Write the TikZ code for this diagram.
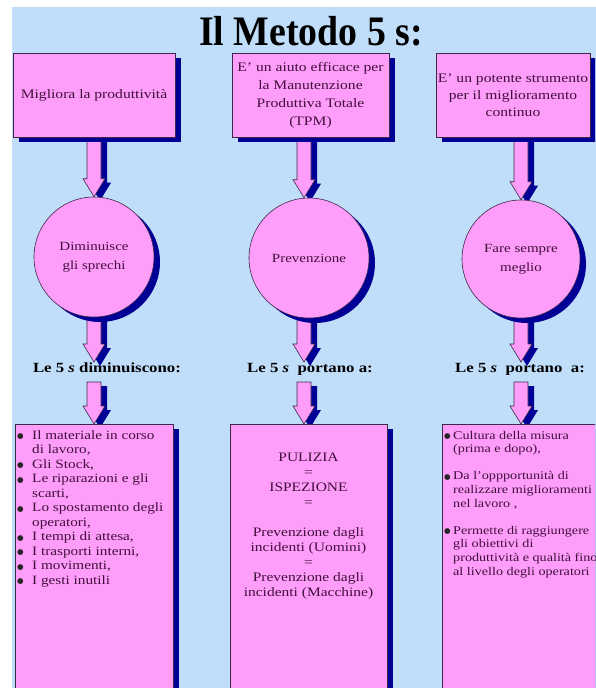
\documentclass[tikz,border=0pt]{standalone}
\usepackage{fontspec}
\setmainfont{Liberation Serif}[FakeStretch=1.2]
\newfontfamily\titlefont{Liberation Serif}[FakeStretch=0.9]
\newfontfamily\symfont{DejaVu Sans}
\usetikzlibrary{shadows,calc}
\definecolor{bgblue}{RGB}{192,222,250}
\definecolor{boxpink}{RGB}{255,158,250}
\definecolor{shblue}{RGB}{0,0,150}
\definecolor{edgecol}{RGB}{60,40,70}
\definecolor{txtcol}{RGB}{65,15,60}
\pgfdeclarelayer{backlayer}
\pgfdeclarelayer{arrowlayer}
\pgfsetlayers{backlayer,arrowlayer,main}
\newcommand\dotb{{\color{black!85}\symfont\fontsize{7.5}{7.5}\selectfont ●}}
\newcommand\bi{\makebox[15pt][l]{\raisebox{0.3pt}{\dotb}}}
\newcommand\ci{\hspace*{15pt}}
\newcommand\bj{\makebox[9pt][l]{\raisebox{0.3pt}{\dotb}}}
\newcommand\cj{\hspace*{9pt}}
\newcommand\barrow[2]{%
  \fill[shblue] let \p1=#1, \p2=#2 in
    (\x1-1pt,\y1-4pt) -- (\x1-1pt,\y2+14pt) -- (\x1-5pt,\y2+14pt) -- (\x1+6pt,\y2-4pt)
    -- (\x1+17pt,\y2+14pt) -- (\x1+13pt,\y2+14pt) -- (\x1+13pt,\y1-4pt) -- cycle;
  \filldraw[fill=boxpink, draw=edgecol, line width=0.6pt] let \p1=#1, \p2=#2 in
    (\x1-7pt,\y1) -- (\x1-7pt,\y2+18pt) -- (\x1-11pt,\y2+18pt) -- (\x1,\y2)
    -- (\x1+11pt,\y2+18pt) -- (\x1+7pt,\y2+18pt) -- (\x1+7pt,\y1) -- cycle;
}
\tikzset{
  shad/.style={drop shadow={shadow xshift=6pt, shadow yshift=-5pt, fill=shblue, opacity=1}},
  pinkbox/.style={draw=edgecol, line width=0.6pt, fill=boxpink, inner sep=0pt, shad,
    text=txtcol, align=center, font=\fontsize{13}{18}\selectfont},
  pinkcirc/.style={circle, draw=edgecol, line width=0.6pt, fill=boxpink, inner sep=0pt, shad,
    minimum size=120pt, text=txtcol, align=center, font=\fontsize{12.5}{19}\selectfont},
  lbl/.style={font=\fontsize{14}{16}\selectfont\bfseries, text=black, inner sep=0pt, anchor=base},
  listtxt/.style={text=txtcol, inner sep=0pt, align=left, anchor=base west},
}
\begin{document}
\begin{tikzpicture}[x=1pt,y=-1pt]
\useasboundingbox (0,0) rectangle (595,688);
\clip (0,0) rectangle (595,688);
\begin{pgfonlayer}{backlayer}
  \fill[white] (0,0) rectangle (595,688);
  \fill[bgblue] (12,7) rectangle (600,700);
\end{pgfonlayer}

% title
\node[font=\titlefont\bfseries\fontsize{42}{42}\selectfont, inner sep=0pt, anchor=base] (title) at (311,45) {Il Metodo 5 s:};

% top boxes
\node[pinkbox, minimum width=162pt, minimum height=84pt] (t1) at (94,95) {Migliora la produttività};
\node[pinkbox, minimum width=157pt, minimum height=84pt] (t2) at (310.5,95) {E' un aiuto efficace per\\la Manutenzione\\Produttiva Totale\\(TPM)};
\node[pinkbox, minimum width=154pt, minimum height=84pt, font=\fontsize{13}{17}\selectfont] (t3) at (513,95) {E' un potente strumento\\per il miglioramento\\continuo};

% circles
\node[pinkcirc] (c1) at (94,257) {Diminuisce\\gli sprechi};
\node[pinkcirc] (c2) at (309,258) {Prevenzione};
\node[pinkcirc, minimum size=118pt] (c3) at (521,259) {Fare sempre\\meglio};

% labels
\node[lbl] (l1) at (107,372.5) {Le 5 \textit{s} diminuiscono:};
\node[lbl] (l2) at (310,372.5) {Le 5 \textit{s}\ \ portano a:};
\node[lbl] (l3) at (520,372.5) {Le 5 \textit{s}\ \ portano\ \ a:};

% bottom boxes
\node[pinkbox, minimum width=158pt, minimum height=290pt, anchor=north west] (b1) at (15,424) {};
\node[pinkbox, minimum width=157pt, minimum height=290pt, anchor=north west] (b2) at (230,424) {};
\node[pinkbox, minimum width=170pt, minimum height=290pt, anchor=north west] (b3) at (442,424) {};

\node[listtxt, font=\fontsize{12.7}{14.5}\selectfont] (b1t) at (17,584) {%
\bi Il materiale in corso\\
\ci di lavoro,\\
\bi Gli Stock,\\
\bi Le riparazioni e gli\\
\ci scarti,\\
\bi Lo spostamento degli\\
\ci operatori,\\
\bi I tempi di attesa,\\
\bi I trasporti interni,\\
\bi I movimenti,\\
\bi I gesti inutili};

\node[text=txtcol, inner sep=0pt, align=center, anchor=base, font=\fontsize{12.9}{15}\selectfont] (b2t) at (308.5,596.5) {%
PULIZIA\\ =\\ ISPEZIONE\\ =\\[15pt]
Prevenzione dagli\\ incidenti (Uomini)\\ =\\ Prevenzione dagli\\ incidenti (Macchine)};

\node[listtxt, font=\fontsize{11.8}{13.8}\selectfont] (b3t) at (444,575.5) {%
\bj Cultura della misura\\
\cj (prima e dopo),\\[13pt]
\bj Da l'oppportunità di\\
\cj realizzare miglioramenti\\
\cj nel lavoro ,\\[13pt]
\bj Permette di raggiungere\\
\cj gli obiettivi di\\
\cj produttività e qualità fino\\
\cj al livello degli operatori};

% arrow coordinates
\coordinate (ax1) at (94,0);
\coordinate (ax2) at (304,0);
\coordinate (ax3) at (521,0);
\coordinate (tipB1) at (94,362);
\coordinate (tipB2) at (304,362);
\coordinate (tipB3) at (521,362);
\coordinate (stC1) at (94,382);
\coordinate (stC2) at (304,382);
\coordinate (stC3) at (521,382);

\begin{pgfonlayer}{arrowlayer}
  \barrow{(t1.center -| ax1)}{(c1.north -| ax1)}
  \barrow{(t2.center -| ax2)}{(c2.north -| ax2)}
  \barrow{(t3.center -| ax3)}{(c3.north -| ax3)}
  \barrow{(c1.center -| ax1)}{(tipB1)}
  \barrow{(c2.center -| ax2)}{(tipB2)}
  \barrow{(c3.center -| ax3)}{(tipB3)}
  \barrow{(stC1)}{(b1.north -| ax1)}
  \barrow{(stC2)}{(b2.north -| ax2)}
  \barrow{(stC3)}{(b3.north -| ax3)}
\end{pgfonlayer}
\end{tikzpicture}
\end{document}
